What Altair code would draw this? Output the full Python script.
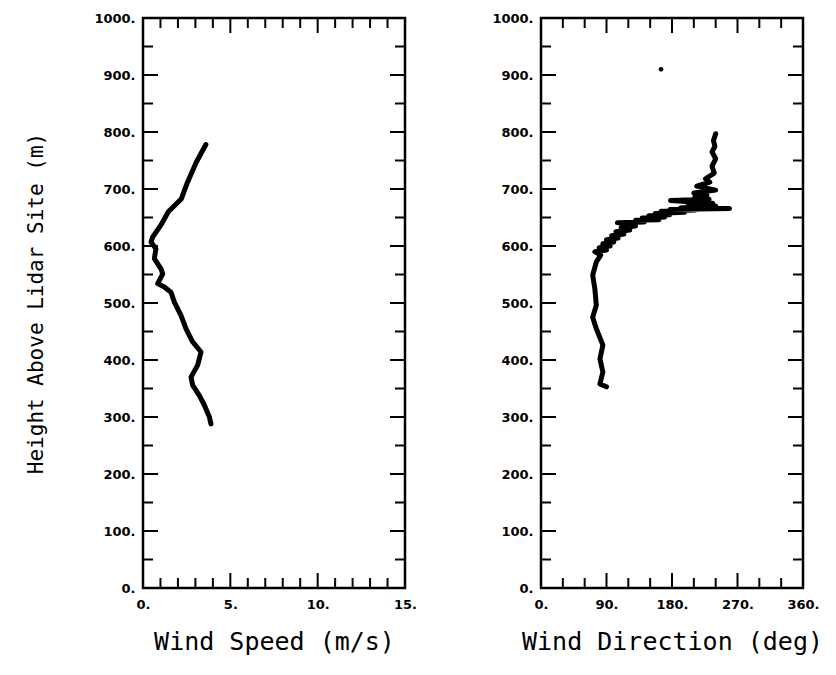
import altair as alt
import pandas as pd

# ---------------- data ----------------
speed_height = [288, 300, 321, 338, 356, 370, 391, 414, 432, 455, 478, 502, 519, 528, 534,
                551, 560, 578, 595, 607, 616, 637, 660, 683, 712, 747, 778]
speed_value = [3.89, 3.80, 3.51, 3.22, 2.84, 2.75, 3.13, 3.32, 2.84, 2.46, 2.18, 1.79, 1.60, 1.22, 0.84,
               1.13, 1.03, 0.65, 0.74, 0.46, 0.56, 1.03, 1.45, 2.20, 2.55, 3.05, 3.60]

dir_height = [353, 358, 379, 402, 426, 455, 475, 496, 525, 549, 572, 584, 590, 593, 597, 600, 604,
              607, 611, 614, 618, 621, 625, 628, 632, 635, 638, 641, 642, 645, 646, 649, 651, 653,
              655, 657, 659, 661, 663, 664, 666, 667, 670, 672, 675, 678, 680, 682, 685, 689, 693,
              698, 705, 712, 718, 728, 740, 753, 765, 775, 785, 797]
dir_value = [90, 81, 85, 81, 85, 76, 71, 76, 74, 71, 76, 82, 74, 90, 80, 95, 85,
             100, 90, 106, 97, 114, 103, 122, 110, 130, 117, 105, 142, 130, 162, 139, 170, 148,
             177, 157, 197, 165, 212, 177, 259, 192, 240, 202, 236, 199, 178, 231, 211, 228, 210,
             240, 214, 232, 226, 238, 235, 240, 235, 239, 237, 240]

stray_dir = [165]
stray_height = [910]

height_labels = [0, 100, 200, 300, 400, 500, 600, 700, 800, 900, 1000]
speed_labels = [0, 5, 10, 15]
dir_labels = [0, 90, 180, 270, 360]

height_minor = [50, 150, 250, 350, 450, 550, 650, 750, 850, 950]
height_major = [100, 200, 300, 400, 500, 600, 700, 800, 900]
speed_minor = [1, 2, 3, 4, 6, 7, 8, 9, 11, 12, 13, 14]
speed_major = [5, 10]
dir_minor = [30, 60, 120, 150, 210, 240, 300, 330]
dir_major = [90, 180, 270]

# ---------------- layout constants ----------------
W, H = 262, 570
MAJ, MIN = 15, 10
LABEL_FONT = "DejaVu Sans"
TITLE_FONT = "DejaVu Sans Mono"

speed_df = pd.DataFrame({"h": speed_height, "v": speed_value})
dir_df = pd.DataFrame({"h": dir_height, "v": dir_value})
stray_df = pd.DataFrame({"h": stray_height, "v": stray_dir})


def tick_layers(xs_minor, xs_major, ys_minor, ys_major, xscale, yscale):
    layers = []
    for vals, ln in ((ys_minor, MIN), (ys_major, MAJ)):
        base = alt.Chart(pd.DataFrame({"t": vals}))
        layers.append(base.mark_rule(color="black", strokeWidth=2).encode(
            y=alt.Y("t:Q", scale=yscale), x=alt.value(0), x2=alt.value(ln)))
        layers.append(base.mark_rule(color="black", strokeWidth=2).encode(
            y=alt.Y("t:Q", scale=yscale), x=alt.value(W), x2=alt.value(W - ln)))
    for vals, ln in ((xs_minor, MIN), (xs_major, MAJ)):
        base = alt.Chart(pd.DataFrame({"t": vals}))
        layers.append(base.mark_rule(color="black", strokeWidth=2).encode(
            x=alt.X("t:Q", scale=xscale), y=alt.value(0), y2=alt.value(ln)))
        layers.append(base.mark_rule(color="black", strokeWidth=2).encode(
            x=alt.X("t:Q", scale=xscale), y=alt.value(H), y2=alt.value(H - ln)))
    return layers


def xaxis(values, title):
    return alt.Axis(values=values, labelExpr="datum.value + '.'", title=title,
                    ticks=False, domain=False, grid=False, labelFlush=False,
                    labelOverlap=False, labelFont=LABEL_FONT, labelFontSize=13,
                    labelFontWeight="bold", labelColor="black", labelPadding=10,
                    titleFont=TITLE_FONT, titleFontSize=25, titleFontWeight="normal",
                    titleColor="black", titlePadding=18)


def yaxis(title):
    kw = dict(values=height_labels, labelExpr="datum.value + '.'",
              ticks=False, domain=False, grid=False, labelFlush=False,
              labelOverlap=False, labelFont=LABEL_FONT, labelFontSize=13,
              labelFontWeight="bold", labelColor="black", labelPadding=8)
    if title:
        kw.update(title=title, titleFont=TITLE_FONT, titleFontSize=21,
                  titleFontWeight="normal", titleColor="black", titlePadding=47)
    else:
        kw.update(title=None)
    return alt.Axis(**kw)


yscale = alt.Scale(domain=[0, 1000], nice=False, zero=False)
sscale = alt.Scale(domain=[0, 15], nice=False, zero=False)
dscale = alt.Scale(domain=[0, 360], nice=False, zero=False)

left_line = alt.Chart(speed_df).mark_line(
    color="black", strokeWidth=5, strokeJoin="round", strokeCap="round").encode(
    x=alt.X("v:Q", scale=sscale, axis=xaxis(speed_labels, "Wind Speed (m/s)")),
    y=alt.Y("h:Q", scale=yscale, axis=yaxis("Height Above Lidar Site (m)")),
    order=alt.Order("h:Q"),
)
left = alt.layer(left_line, *tick_layers(speed_minor, speed_major, height_minor, height_major,
                                         sscale, yscale)).properties(width=W, height=H)

right_line = alt.Chart(dir_df).mark_line(
    color="black", strokeWidth=5, strokeJoin="round", strokeCap="round").encode(
    x=alt.X("v:Q", scale=dscale, axis=xaxis(dir_labels, "Wind Direction (deg)")),
    y=alt.Y("h:Q", scale=yscale, axis=yaxis(None)),
    order=alt.Order("h:Q"),
)
stray = alt.Chart(stray_df).mark_circle(color="black", size=22, opacity=1).encode(
    x=alt.X("v:Q", scale=dscale), y=alt.Y("h:Q", scale=yscale))
right = alt.layer(right_line, stray, *tick_layers(dir_minor, dir_major, height_minor, height_major,
                                                  dscale, yscale)).properties(width=W, height=H)

chart = alt.hconcat(left, right, spacing=136, bounds="flush").properties(
    padding={"left": 24, "top": 10, "right": 5, "bottom": 5},
    background="white",
).configure_view(stroke="black", strokeWidth=2.5)

chart.save("out.html", embed_options={"renderer": "svg", "actions": False})
